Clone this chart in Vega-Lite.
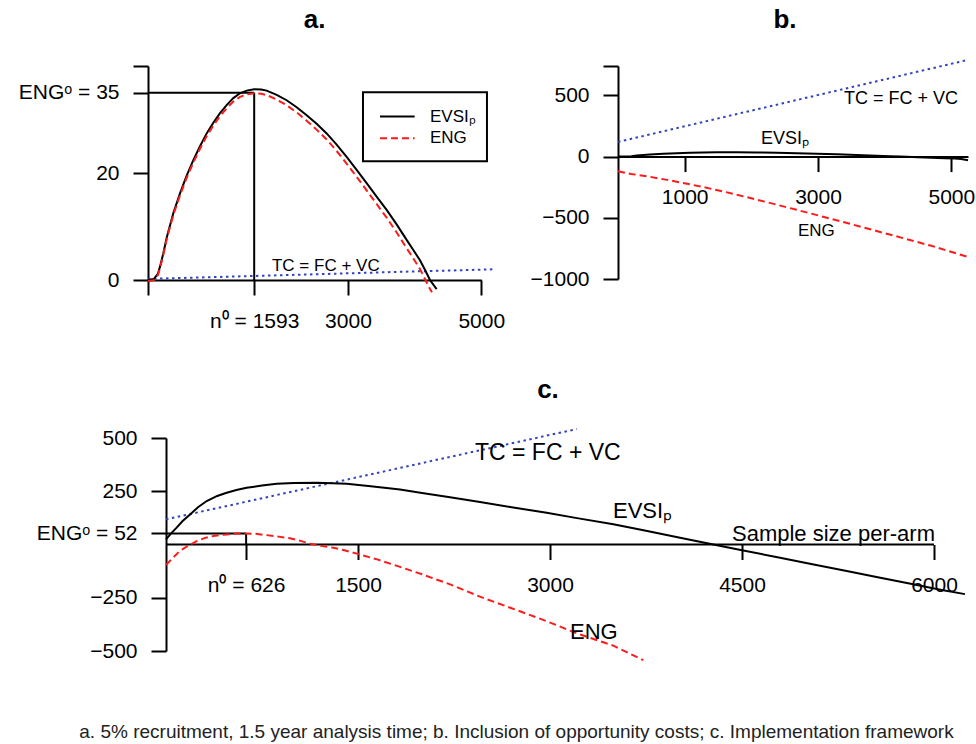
{
  "$schema": "https://vega.github.io/schema/vega-lite/v6.json",
  "background": "white",
  "padding": {"left": 18, "top": 7, "right": 5, "bottom": 5},
  "title": {"text": "a. 5% recruitment, 1.5 year analysis time; b. Inclusion of opportunity costs; c. Implementation framework", "orient": "bottom", "fontSize": 19, "fontWeight": "normal", "offset": 59, "dx": 20, "frame": "bounds", "anchor": "middle", "color": "#222222"},
  "config": {
    "view": {"stroke": null},
    "font": "Liberation Sans",
    "axis": {"domainColor": "black", "domainWidth": 2, "tickColor": "black", "tickWidth": 2, "tickSize": 15, "labelFont": "Liberation Sans", "labelFontSize": 21, "labelColor": "black", "grid": false, "labelFlush": false, "labelOverlap": false, "labelBound": false},
    "axisX": {"labelPadding": 15},
    "axisY": {"labelPadding": 14},
    "title": {"font": "Liberation Sans", "fontSize": 26, "fontWeight": "bold", "color": "black", "frame": "group", "offset": 22, "anchor": "middle"}
  },
  "datasets": {
    "a_evsi": [{"n":0,"v":0},{"n":90,"v":0.2},{"n":150,"v":1.2},{"n":180,"v":2.5},{"n":230,"v":5},{"n":280,"v":7.9},{"n":380,"v":12.5},{"n":480,"v":16.2},{"n":580,"v":19.5},{"n":680,"v":22.4},{"n":780,"v":25.0},{"n":880,"v":27.4},{"n":980,"v":29.4},{"n":1080,"v":31.2},{"n":1180,"v":32.7},{"n":1280,"v":34.0},{"n":1380,"v":34.9},{"n":1480,"v":35.4},{"n":1593,"v":35.65},{"n":1700,"v":35.6},{"n":1780,"v":35.4},{"n":1930,"v":34.6},{"n":2080,"v":33.6},{"n":2230,"v":32.3},{"n":2380,"v":30.8},{"n":2530,"v":29.2},{"n":2680,"v":27.4},{"n":2830,"v":25.3},{"n":2980,"v":23.0},{"n":3130,"v":20.6},{"n":3280,"v":18.1},{"n":3430,"v":15.6},{"n":3580,"v":13.1},{"n":3730,"v":10.4},{"n":3880,"v":7.5},{"n":3980,"v":5.6},{"n":4080,"v":3.7},{"n":4155,"v":1.9},{"n":4230,"v":0},{"n":4330,"v":-1.7}],
    "a_eng": [{"n":0,"v":-0.2},{"n":90,"v":-0.03},{"n":150,"v":0.95},{"n":180,"v":2.24},{"n":230,"v":4.72},{"n":280,"v":7.6},{"n":380,"v":12.17},{"n":480,"v":15.83},{"n":580,"v":19.1},{"n":680,"v":21.96},{"n":780,"v":24.53},{"n":880,"v":26.89},{"n":980,"v":28.86},{"n":1080,"v":30.62},{"n":1180,"v":32.09},{"n":1280,"v":33.35},{"n":1380,"v":34.22},{"n":1480,"v":34.68},{"n":1593,"v":34.89},{"n":1700,"v":34.8},{"n":1780,"v":34.58},{"n":1930,"v":33.72},{"n":2080,"v":32.67},{"n":2230,"v":31.32},{"n":2380,"v":29.77},{"n":2530,"v":28.11},{"n":2680,"v":26.26},{"n":2830,"v":24.11},{"n":2980,"v":21.76},{"n":3130,"v":19.3},{"n":3280,"v":16.75},{"n":3430,"v":14.2},{"n":3580,"v":11.65},{"n":3730,"v":8.89},{"n":3880,"v":5.94},{"n":3980,"v":4.01},{"n":4080,"v":2.07},{"n":4155,"v":0.2},{"n":4230,"v":-1.68},{"n":4260,"v":-2.3}],
    "a_tc": [{"n":0,"v":0.2},{"n":1000,"v":0.55},{"n":2000,"v":0.9},{"n":3000,"v":1.25},{"n":4000,"v":1.6},{"n":5200,"v":2.0}],
    "b_evsi": [{"n":0,"v":0},{"n":200,"v":3.5},{"n":280,"v":8.1},{"n":480,"v":16.2},{"n":680,"v":22.4},{"n":880,"v":27.4},{"n":1080,"v":31.2},{"n":1280,"v":34},{"n":1480,"v":35.4},{"n":1593,"v":35.65},{"n":1780,"v":35.4},{"n":2080,"v":33.6},{"n":2380,"v":30.8},{"n":2680,"v":27.4},{"n":2980,"v":23},{"n":3280,"v":18.1},{"n":3580,"v":13.1},{"n":3880,"v":7.5},{"n":4080,"v":3.7},{"n":4230,"v":0},{"n":4330,"v":-1.7},{"n":4500,"v":-5},{"n":4700,"v":-9},{"n":4900,"v":-13},{"n":5050,"v":-16},{"n":5150,"v":-20},{"n":5250,"v":-30}],
    "b_eng": [{"n":0,"v":-120},{"n":200,"v":-142},{"n":480,"v":-165},{"n":880,"v":-205},{"n":1280,"v":-249},{"n":1593,"v":-287},{"n":2080,"v":-351},{"n":2680,"v":-435},{"n":3280,"v":-520},{"n":3880,"v":-608},{"n":4330,"v":-674},{"n":4700,"v":-729},{"n":5250,"v":-820}],
    "b_tc": [{"n":0,"v":120},{"n":5250,"v":790}],
    "c_evsi": [{"n":0,"v":24},{"n":40,"v":52},{"n":83,"v":79},{"n":130,"v":110},{"n":188,"v":141},{"n":250,"v":175},{"n":318,"v":204},{"n":400,"v":228},{"n":474,"v":243},{"n":550,"v":256},{"n":630,"v":266},{"n":750,"v":277},{"n":865,"v":285},{"n":1000,"v":289},{"n":1177,"v":290},{"n":1300,"v":288},{"n":1412,"v":285},{"n":1600,"v":274},{"n":1828,"v":258},{"n":2000,"v":242},{"n":2219,"v":222},{"n":2453,"v":200},{"n":2700,"v":175},{"n":2974,"v":149},{"n":3200,"v":125},{"n":3495,"v":95},{"n":3750,"v":65},{"n":4016,"v":32},{"n":4276,"v":0},{"n":4500,"v":-27},{"n":4797,"v":-62},{"n":5050,"v":-93},{"n":5318,"v":-124},{"n":5580,"v":-156},{"n":5838,"v":-187},{"n":6050,"v":-212},{"n":6242,"v":-233}],
    "c_eng": [{"n":0,"v":-96},{"n":50,"v":-65},{"n":109,"v":-30},{"n":175,"v":-5},{"n":240,"v":16},{"n":300,"v":30},{"n":370,"v":40},{"n":450,"v":46},{"n":526,"v":50},{"n":626,"v":52},{"n":700,"v":50},{"n":787,"v":44},{"n":880,"v":37},{"n":969,"v":29},{"n":1050,"v":17},{"n":1125,"v":4},{"n":1210,"v":-6},{"n":1307,"v":-15},{"n":1400,"v":-28},{"n":1490,"v":-43},{"n":1650,"v":-70},{"n":1828,"v":-105},{"n":2000,"v":-140},{"n":2219,"v":-187},{"n":2453,"v":-245},{"n":2700,"v":-299},{"n":2974,"v":-360},{"n":3200,"v":-415},{"n":3495,"v":-475},{"n":3729,"v":-543}],
    "c_tc": [{"n":0,"v":118},{"n":3208,"v":542}]
  },
  "spacing": 46,
  "vconcat": [
    {
      "bounds": "flush",
      "spacing": 136,
      "hconcat": [
        {
          "width": 333.3,
          "height": 214,
          "title": {"text": "a."},
          "layer": [
            {"data": {"values": [{}]}, "mark": {"type": "rule", "color": "black", "strokeWidth": 2},
             "encoding": {"x": {"datum": 0, "type": "quantitative", "title": null}, "x2": {"datum": 1593}, "y": {"datum": 35, "type": "quantitative", "title": null}}},
            {"data": {"values": [{}]}, "mark": {"type": "rule", "color": "black", "strokeWidth": 2},
             "encoding": {"x": {"datum": 1593, "type": "quantitative", "title": null}, "y": {"datum": 0, "type": "quantitative", "title": null}, "y2": {"datum": 35}}},
            {"data": {"name": "a_tc"}, "mark": {"type": "line", "color": "#3344bb", "strokeWidth": 2, "strokeDash": [2.5, 3.5]},
             "encoding": {"x": {"field": "n", "type": "quantitative", "title": null}, "y": {"field": "v", "type": "quantitative", "title": null}}},
            {"data": {"name": "a_evsi"}, "mark": {"type": "line", "color": "black", "strokeWidth": 2},
             "encoding": {
               "x": {"field": "n", "type": "quantitative", "title": null, "scale": {"domain": [0, 5000], "nice": false, "zero": false},
                     "axis": {"values": [0, 1593, 3000, 5000], "format": "d", "labelExpr": "datum.value == 0 ? '' : datum.value == 1593 ? 'n⁰ = 1593' : datum.label"}},
               "y": {"field": "v", "type": "quantitative", "title": null, "scale": {"domain": [0, 40], "nice": false, "zero": false},
                     "axis": {"values": [0, 20, 35, 40], "format": "d", "labelExpr": "datum.value == 40 ? '' : datum.value == 35 ? 'ENGᵒ = 35' : datum.label"}}}},
            {"data": {"name": "a_eng"}, "mark": {"type": "line", "color": "#ff1a1a", "strokeWidth": 2, "strokeDash": [7, 4]},
             "encoding": {"x": {"field": "n", "type": "quantitative", "title": null}, "y": {"field": "v", "type": "quantitative", "title": null}}},
            {"data": {"values": [{}]}, "mark": {"type": "text", "text": "TC = FC + VC", "align": "left", "baseline": "middle", "fontSize": 17, "font": "Liberation Sans", "color": "black"},
             "encoding": {"x": {"datum": 1860, "type": "quantitative", "title": null}, "y": {"datum": 2.7, "type": "quantitative", "title": null}}},
            {"data": {"values": [{}]}, "mark": {"type": "rect", "fill": "white", "fillOpacity": 0, "stroke": "black", "strokeWidth": 2},
             "encoding": {"x": {"datum": 3225, "type": "quantitative", "title": null}, "x2": {"datum": 5085}, "y": {"datum": 35.1, "type": "quantitative", "title": null}, "y2": {"datum": 22.2}}},
            {"data": {"values": [{}]}, "mark": {"type": "rule", "color": "black", "strokeWidth": 2},
             "encoding": {"x": {"datum": 3480, "type": "quantitative", "title": null}, "x2": {"datum": 4000}, "y": {"datum": 30.56, "type": "quantitative", "title": null}}},
            {"data": {"values": [{}]}, "mark": {"type": "rule", "color": "#ff1a1a", "strokeWidth": 2, "strokeDash": [7, 4]},
             "encoding": {"x": {"datum": 3480, "type": "quantitative", "title": null}, "x2": {"datum": 4000}, "y": {"datum": 26.5, "type": "quantitative", "title": null}}},
            {"data": {"values": [{}]}, "mark": {"type": "text", "text": "EVSIₚ", "align": "left", "baseline": "middle", "fontSize": 17, "font": "Liberation Sans", "color": "black"},
             "encoding": {"x": {"datum": 4230, "type": "quantitative", "title": null}, "y": {"datum": 30.56, "type": "quantitative", "title": null}}},
            {"data": {"values": [{}]}, "mark": {"type": "text", "text": "ENG", "align": "left", "baseline": "middle", "fontSize": 17, "font": "Liberation Sans", "color": "black"},
             "encoding": {"x": {"datum": 4230, "type": "quantitative", "title": null}, "y": {"datum": 26.5, "type": "quantitative", "title": null}}}
          ]
        },
        {
          "width": 350,
          "height": 213,
          "title": {"text": "b.", "dx": -8},
          "layer": [
            {"data": {"name": "b_tc"}, "mark": {"type": "line", "color": "#3344bb", "strokeWidth": 2, "strokeDash": [2.5, 3.5]},
             "encoding": {"x": {"field": "n", "type": "quantitative", "title": null}, "y": {"field": "v", "type": "quantitative", "title": null}}},
            {"data": {"name": "b_evsi"}, "mark": {"type": "line", "color": "black", "strokeWidth": 2},
             "encoding": {
               "x": {"field": "n", "type": "quantitative", "title": null, "scale": {"domain": [0, 5250], "nice": false, "zero": false},
                     "axis": {"values": [1000, 3000, 5000], "format": "d", "offset": -122.4}},
               "y": {"field": "v", "type": "quantitative", "title": null, "scale": {"domain": [-1000, 740], "nice": false, "zero": false},
                     "axis": {"values": [-1000, -500, 0, 500, 740], "format": "d", "labelExpr": "datum.value == 740 ? '' : datum.label"}}}},
            {"data": {"name": "b_eng"}, "mark": {"type": "line", "color": "#ff1a1a", "strokeWidth": 2, "strokeDash": [7, 4]},
             "encoding": {"x": {"field": "n", "type": "quantitative", "title": null}, "y": {"field": "v", "type": "quantitative", "title": null}}},
            {"data": {"values": [{}]}, "mark": {"type": "text", "text": "TC = FC + VC", "align": "left", "baseline": "middle", "fontSize": 18, "font": "Liberation Sans", "color": "black"},
             "encoding": {"x": {"datum": 3390, "type": "quantitative", "title": null}, "y": {"datum": 467, "type": "quantitative", "title": null}}},
            {"data": {"values": [{}]}, "mark": {"type": "text", "text": "EVSIₚ", "align": "left", "baseline": "middle", "fontSize": 18, "font": "Liberation Sans", "color": "black"},
             "encoding": {"x": {"datum": 2145, "type": "quantitative", "title": null}, "y": {"datum": 145, "type": "quantitative", "title": null}}},
            {"data": {"values": [{}]}, "mark": {"type": "text", "text": "ENG", "align": "left", "baseline": "middle", "fontSize": 17, "font": "Liberation Sans", "color": "black"},
             "encoding": {"x": {"datum": 2700, "type": "quantitative", "title": null}, "y": {"datum": -610, "type": "quantitative", "title": null}}}
          ]
        }
      ]
    },
    {
      "width": 786,
      "height": 213,
      "title": {"text": "c.", "dx": 7},
      "layer": [
        {"data": {"values": [{}]}, "mark": {"type": "rule", "color": "black", "strokeWidth": 2},
         "encoding": {"x": {"datum": 0, "type": "quantitative", "title": null}, "x2": {"datum": 6000}, "y": {"datum": 0, "type": "quantitative", "title": null}}},
        {"data": {"values": [{}]}, "mark": {"type": "rule", "color": "black", "strokeWidth": 2},
         "encoding": {"x": {"datum": 0, "type": "quantitative", "title": null}, "x2": {"datum": 626}, "y": {"datum": 52, "type": "quantitative", "title": null}}},
        {"data": {"values": [{}]}, "mark": {"type": "rule", "color": "black", "strokeWidth": 2},
         "encoding": {"x": {"datum": 626, "type": "quantitative", "title": null}, "y": {"datum": 0, "type": "quantitative", "title": null}, "y2": {"datum": 52}}},
        {"data": {"name": "c_tc"}, "mark": {"type": "line", "color": "#3344bb", "strokeWidth": 2, "strokeDash": [2.5, 3.5]},
         "encoding": {"x": {"field": "n", "type": "quantitative", "title": null}, "y": {"field": "v", "type": "quantitative", "title": null}}},
        {"data": {"name": "c_evsi"}, "mark": {"type": "line", "color": "black", "strokeWidth": 2},
         "encoding": {
           "x": {"field": "n", "type": "quantitative", "title": null, "scale": {"domain": [-140.6, 6000], "nice": false, "zero": false},
                 "axis": {"values": [626, 1500, 3000, 4500, 6000], "format": "d", "domain": false, "offset": -106.5, "labelExpr": "datum.value == 626 ? 'n⁰ = 626' : datum.label"}},
           "y": {"field": "v", "type": "quantitative", "title": null, "scale": {"domain": [-500, 500], "nice": false, "zero": false},
                 "axis": {"values": [-500, -250, 52, 250, 500], "format": "d", "offset": -18, "labelExpr": "datum.value == 52 ? 'ENGᵒ = 52' : datum.label"}}}},
        {"data": {"name": "c_eng"}, "mark": {"type": "line", "color": "#ff1a1a", "strokeWidth": 2, "strokeDash": [7, 4]},
         "encoding": {"x": {"field": "n", "type": "quantitative", "title": null}, "y": {"field": "v", "type": "quantitative", "title": null}}},
        {"data": {"values": [{}]}, "mark": {"type": "text", "text": "TC = FC + VC", "align": "left", "baseline": "middle", "fontSize": 23, "font": "Liberation Sans", "color": "black"},
         "encoding": {"x": {"datum": 2414, "type": "quantitative", "title": null}, "y": {"datum": 428, "type": "quantitative", "title": null}}},
        {"data": {"values": [{}]}, "mark": {"type": "text", "text": "EVSIₚ", "align": "left", "baseline": "middle", "fontSize": 22, "font": "Liberation Sans", "color": "black"},
         "encoding": {"x": {"datum": 3492, "type": "quantitative", "title": null}, "y": {"datum": 157, "type": "quantitative", "title": null}}},
        {"data": {"values": [{}]}, "mark": {"type": "text", "text": "Sample size per-arm", "align": "left", "baseline": "middle", "fontSize": 22, "font": "Liberation Sans", "color": "black"},
         "encoding": {"x": {"datum": 4422, "type": "quantitative", "title": null}, "y": {"datum": 49, "type": "quantitative", "title": null}}},
        {"data": {"values": [{}]}, "mark": {"type": "text", "text": "ENG", "align": "left", "baseline": "middle", "fontSize": 22, "font": "Liberation Sans", "color": "black"},
         "encoding": {"x": {"datum": 3156, "type": "quantitative", "title": null}, "y": {"datum": -410, "type": "quantitative", "title": null}}}
      ]
    }
  ]
}
